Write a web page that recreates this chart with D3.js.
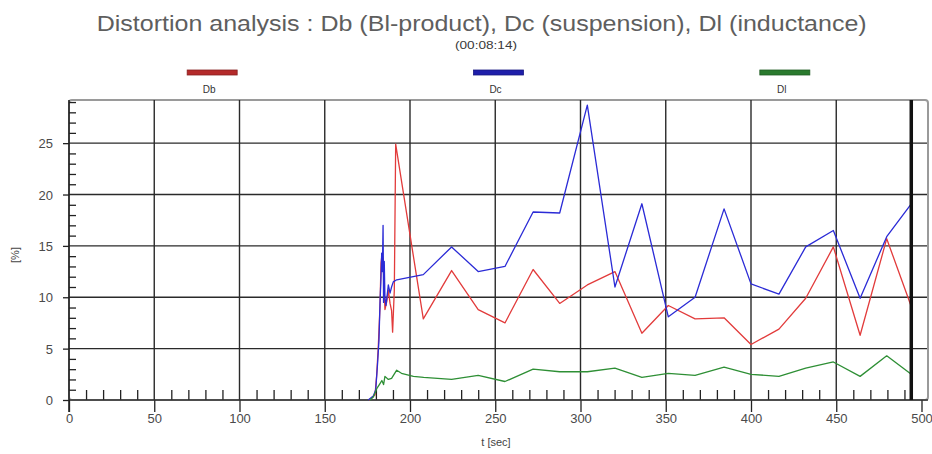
<!DOCTYPE html>
<html>
<head>
<meta charset="utf-8">
<script src="https://cdn.jsdelivr.net/npm/d3@7"></script>
<style>
  html, body { margin: 0; padding: 0; background: #fff; }
  svg { display: block; font-family: "Liberation Sans", Arial, sans-serif; }
</style>
</head>
<body>
<svg id="chart" width="932" height="454"></svg>
<script>
// ---- chart text ----
const titleText = "Distortion analysis : Db (Bl-product), Dc (suspension), Dl (inductance)";
const subtitleText = "(00:08:14)";
const xLabel = "t [sec]";
const yLabel = "[%]";

// ---- series ----
const seriesNames = ["Db", "Dc", "Dl"];

const dbTime   = [176, 179.5, 180.5, 181.4, 182.4, 183.0, 183.6, 184.2, 185.3, 186.4, 187.3, 188.3, 189.2, 189.8, 190.8, 191.6, 207.8, 224.4, 240, 255.7, 272.2, 287.8, 304, 320.2, 336, 351.5, 367.2, 384.2, 400, 416.4, 432.1, 448.3, 464, 479.6, 494];
const dbValues = [0, 0.5, 2.5, 5.2, 9.1, 13.3, 14.2, 13.7, 8.8, 9.6, 10.7, 9.4, 8.7, 6.6, 10.7, 24.9, 7.9, 12.6, 8.8, 7.5, 12.7, 9.4, 11.2, 12.5, 6.5, 9.2, 7.9, 8.0, 5.4, 6.9, 9.9, 14.9, 6.3, 15.7, 9.1];

const dcTime   = [175.5, 178.5, 179.9, 181.0, 181.8, 182.4, 183.0, 183.4, 183.8, 184.2, 184.5, 184.9, 185.3, 185.9, 187.3, 188.3, 189.2, 190.2, 192.2, 207.8, 224.4, 240, 255.7, 272.2, 287.8, 304, 320.2, 336, 351.5, 367.2, 384.2, 400, 416.4, 432.1, 448.3, 464, 479.6, 494];
const dcValues = [0, 0.4, 1.0, 3.6, 5.8, 9.4, 12.0, 14.3, 12.5, 17.0, 9.5, 13.5, 10.0, 9.2, 11.2, 10.4, 11.0, 11.5, 11.7, 12.2, 14.9, 12.5, 13.0, 18.3, 18.2, 28.7, 11.0, 19.1, 8.1, 10.0, 18.6, 11.3, 10.3, 14.9, 16.5, 9.9, 15.9, 19.1];

const dlTime   = [176.5, 178.5, 180.5, 182.4, 183.5, 184.5, 185.3, 187.3, 189.2, 192.2, 195, 202, 208, 224.4, 240, 255.7, 272.2, 287.8, 304, 320.2, 336, 351.5, 367.2, 384.2, 400, 416.4, 432.1, 448.3, 464, 479.6, 494];
const dlValues = [0, 0.3, 1.1, 1.6, 1.9, 1.5, 2.3, 2.0, 2.1, 2.9, 2.6, 2.3, 2.2, 2.0, 2.4, 1.8, 3.0, 2.75, 2.75, 3.1, 2.2, 2.6, 2.4, 3.2, 2.5, 2.3, 3.1, 3.7, 2.3, 4.3, 2.5];

// ---- axes ----
const xTicks = [0, 50, 100, 150, 200, 250, 300, 350, 400, 450, 500];
const yTicks = [0, 5, 10, 15, 20, 25];
const markerTime = 494;   // current position cursor

// ---- layout ----
const plotLeft = 69, plotRight = 928, plotTop = 100, plotBottom = 400;
const lineColors   = ["#e23b3b", "#2b2bd6", "#2e8f35"];
const legendColors = ["#b42a2a", "#1e1eaa", "#2a7a2e"];

const svg = d3.select("#chart");

const x = d3.scaleLinear().domain([0, 500]).range([plotLeft, 921.5]);
const y = d3.scaleLinear().domain([0, 29.2]).range([plotBottom, plotTop]);

// title
svg.append("text")
  .attr("x", 481.7).attr("y", 30.5)
  .attr("text-anchor", "middle")
  .attr("font-size", 22.5).attr("fill", "#5e5e5e")
  .attr("textLength", 770).attr("lengthAdjust", "spacingAndGlyphs")
  .text(titleText);

svg.append("text")
  .attr("x", 486).attr("y", 48.5)
  .attr("text-anchor", "middle")
  .attr("font-size", 11).attr("fill", "#3a3a3a")
  .attr("textLength", 62).attr("lengthAdjust", "spacingAndGlyphs")
  .text(subtitleText);

// legend: one slot per series across the plot width
const legendScale = d3.scaleBand().domain(seriesNames).range([plotLeft, plotRight]);
const legend = svg.append("g").selectAll("g").data(seriesNames).join("g")
  .attr("transform", d => `translate(${legendScale(d) + legendScale.bandwidth() / 2},0)`);
legend.append("rect")
  .attr("x", -25).attr("y", 70).attr("width", 50).attr("height", 5)
  .attr("fill", (d, i) => legendColors[i])
  .attr("stroke", (d, i) => d3.color(legendColors[i]).darker(0.8))
  .attr("stroke-width", 0.8);
legend.append("text")
  .attr("x", -3).attr("y", 93)
  .attr("text-anchor", "middle")
  .attr("font-size", 10).attr("fill", "#333")
  .text(d => d);

// plot frame
svg.append("rect")
  .attr("x", plotLeft).attr("y", plotTop)
  .attr("width", plotRight - plotLeft).attr("height", plotBottom - plotTop)
  .attr("rx", 3)
  .attr("fill", "none").attr("stroke", "#9a9a9a").attr("stroke-width", 2);

// grid
const grid = svg.append("g").attr("stroke", "#2a2a2a").attr("stroke-width", 1.4);
grid.selectAll("line.h").data(yTicks.filter(v => v > 0)).join("line")
  .attr("class", "h")
  .attr("x1", plotLeft).attr("x2", plotRight - 1)
  .attr("y1", d => y(d)).attr("y2", d => y(d));
grid.selectAll("line.v").data(xTicks.filter(v => v > 0 && v < 500)).join("line")
  .attr("class", "v")
  .attr("x1", d => x(d)).attr("x2", d => x(d))
  .attr("y1", plotTop).attr("y2", plotBottom);

// x axis
const xAxisG = svg.append("g").attr("transform", `translate(0,${plotBottom})`);
xAxisG.call(d3.axisBottom(x).tickValues(xTicks).tickSize(12).tickPadding(2).tickFormat(d3.format("d")));
const xMinor = d3.range(10, 500, 10).filter(v => v % 50 !== 0);
const xMinorG = svg.append("g").attr("transform", `translate(0,${plotBottom})`);
xMinorG.call(d3.axisTop(x).tickValues(xMinor).tickSize(10).tickFormat(""));

// y axis
const yAxisG = svg.append("g").attr("transform", `translate(${plotLeft},0)`);
yAxisG.call(d3.axisLeft(y).tickValues(yTicks).tickSize(6).tickPadding(10).tickFormat(d3.format("d")));
const yMinorG = svg.append("g").attr("transform", `translate(${plotLeft},0)`);
yMinorG.call(d3.axisRight(y).tickValues(d3.range(1, 30).filter(v => v % 5 !== 0)).tickSize(7).tickFormat(""));

[xAxisG, xMinorG, yAxisG, yMinorG].forEach(g => {
  g.select(".domain").remove();
  g.selectAll(".tick line").attr("stroke", "#222").attr("stroke-width", 1.3);
  g.selectAll("text").attr("font-size", 13).attr("fill", "#4a4a4a")
    .attr("font-family", "\"Liberation Sans\", Arial, sans-serif");
});
yAxisG.selectAll(".tick text").attr("dy", "0.36em");

// axis lines
svg.append("line")
  .attr("x1", plotLeft).attr("x2", plotRight).attr("y1", plotBottom).attr("y2", plotBottom)
  .attr("stroke", "#333").attr("stroke-width", 1.6);
svg.append("line")
  .attr("x1", plotLeft).attr("x2", plotLeft).attr("y1", plotTop).attr("y2", plotBottom + 12)
  .attr("stroke", "#222").attr("stroke-width", 1.6);

// axis titles
svg.append("text")
  .attr("x", 496).attr("y", 446)
  .attr("text-anchor", "middle").attr("font-size", 11).attr("fill", "#444")
  .text(xLabel);
svg.append("text")
  .attr("transform", "translate(19,255) rotate(-90)")
  .attr("text-anchor", "middle").attr("font-size", 11).attr("fill", "#444")
  .text(yLabel);

// series lines
const series = [
  { name: "Db", t: dbTime, v: dbValues },
  { name: "Dc", t: dcTime, v: dcValues },
  { name: "Dl", t: dlTime, v: dlValues }
];
const line = d3.line().x(d => x(d[0])).y(d => y(d[1]));
svg.append("g").selectAll("path").data(series).join("path")
  .attr("d", s => line(s.t.map((t, i) => [t, s.v[i]])))
  .attr("fill", "none")
  .attr("stroke", (s, i) => lineColors[i])
  .attr("stroke-width", 1.3)
  .attr("stroke-linejoin", "round");

// time cursor
svg.append("line")
  .attr("x1", x(markerTime)).attr("x2", x(markerTime))
  .attr("y1", plotTop).attr("y2", plotBottom)
  .attr("stroke", "#111").attr("stroke-width", 3.5);
</script>
</body>
</html>
